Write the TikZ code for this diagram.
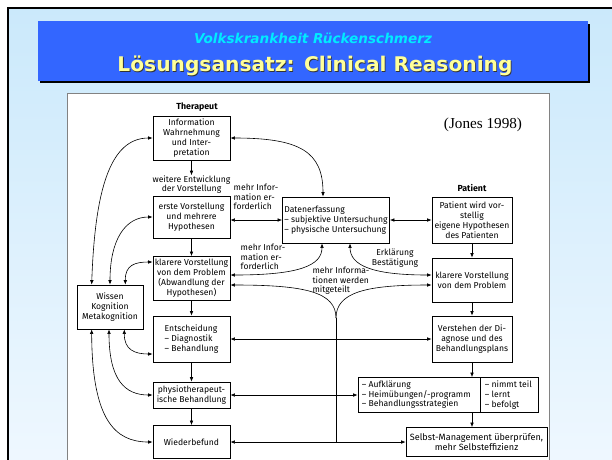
\documentclass[tikz,border=0pt]{standalone}
\usepackage{fontspec}
\setmainfont{Fira Sans}
\newfontfamily\titlefont{DejaVu Sans}
\newfontfamily\jonesfont{Liberation Serif}
\usetikzlibrary{arrows.meta}
\definecolor{bgtop}{RGB}{203,233,251}
\definecolor{bgbot}{RGB}{240,248,255}
\definecolor{titleblue}{RGB}{51,102,255}
\definecolor{subcyan}{RGB}{0,235,255}
\definecolor{titleyellow}{RGB}{255,255,153}
\definecolor{panelgrey}{RGB}{130,130,130}
\tikzset{
  box/.style={draw, line width=0.7pt, align=center, inner sep=1pt,
    font=\fontsize{8.6}{10}\selectfont},
  lbl/.style={align=left, inner sep=0pt, font=\fontsize{8.6}{9.6}\selectfont},
  head/.style={inner sep=0pt, font=\fontsize{8.8}{9.4}\selectfont\bfseries},
  conn/.style={line width=0.6pt, -{Latex[length=4.5pt,width=3.6pt]}},
  dconn/.style={line width=0.6pt, {Latex[length=4.5pt,width=3.6pt]}-{Latex[length=4.5pt,width=3.6pt]}},
  plain/.style={line width=0.6pt},
}
\begin{document}
\begin{tikzpicture}[x=1pt,y=-1pt]
\useasboundingbox (0,0) rectangle (612,459);
\clip (0,0) rectangle (612,459);
% slide background
\fill[white] (0,0) rectangle (612,459);
\shade[top color=bgtop, bottom color=bgbot] (8,8) rectangle (640,480);
\draw[line width=2.6pt] (8,8) rectangle (640,480);
% title banner
\fill[black] (40,24) rectangle (590,83);
\fill[titleblue] (38,21) rectangle (588,81);
\node[font=\titlefont\bfseries\itshape\fontsize{13.6}{15}\selectfont, text=subcyan] (sub) at (313,38) {Volkskrankheit Rückenschmerz};
\node[font=\titlefont\bfseries\fontsize{20.2}{22}\selectfont, text=black!80] (titsh) at (315.8,66.8) {Lösungsansatz: Clinical Reasoning};
\node[font=\titlefont\bfseries\fontsize{20.2}{22}\selectfont, text=titleyellow] (tit) at (315,66) {Lösungsansatz: Clinical Reasoning};
% panel
\draw[fill=white, draw=panelgrey, line width=0.8pt] (67,93) rectangle (549,480);

% headings
\node[head] (ther) at (197,107) {Therapeut};
\node[head] (pat) at (472,188) {Patient};
\node[font=\jonesfont\fontsize{15.2}{17}\selectfont, inner sep=0pt] (jones) at (483,125) {(Jones 1998)};

% left column
\node[box, minimum width=77pt, minimum height=44pt] (info) at (191.5,138) {Information\\Wahrnehmung\\und Inter-\\pretation};
\node[lbl, align=center] (weiter) at (191.5,184.5) {weitere Entwicklung\\der Vorstellung};
\node[box, minimum width=77pt, minimum height=42pt] (erste) at (191.5,217) {erste Vorstellung\\und mehrere\\Hypothesen};
\node[box, minimum width=77pt, minimum height=44pt] (klarL) at (191.5,278.5) {klarere Vorstellung\\von dem Problem\\(Abwandlung der\\Hypothesen)};
\node[box, minimum width=77pt, minimum height=46pt, align=left] (entsch) at (191.5,339) {Entscheidung\\– Diagnostik\\– Behandlung};
\node[box, minimum width=77pt, minimum height=26pt] (physio) at (191.5,395) {physiotherapeut-\\ische Behandlung};
\node[box, minimum width=77pt, minimum height=33pt] (wieder) at (191.5,442) {Wiederbefund};
\node[box, minimum width=66pt, minimum height=44pt] (wissen) at (110,307) {Wissen\\Kognition\\Metakognition};

% middle
\node[box, minimum width=107pt, minimum height=46pt, align=left] (daten) at (336,220) {Datenerfassung\\– subjektive Untersuchung\\– physische Untersuchung};
\node[lbl] (mi1) at (256,197) {mehr Infor-\\mation er-\\forderlich};
\node[lbl] (mi2) at (263,257) {mehr Infor-\\mation er-\\forderlich};
\node[lbl, align=center] (erkl) at (395,258) {Erklärung\\Bestätigung};
\node[lbl] (mitg) at (341,281) {mehr Informa-\\tionen werden\\mitgeteilt};

% right column
\node[box, minimum width=80pt, minimum height=46pt] (patient) at (472,220) {Patient wird vor-\\stellig\\eigene Hypothesen\\des Patienten};
\node[box, minimum width=80pt, minimum height=44pt] (klarR) at (472,280) {klarere Vorstellung\\von dem Problem};
\node[box, minimum width=80pt, minimum height=46pt] (verst) at (472,339) {Verstehen der Di-\\agnose und des\\Behandlungsplans};
\node[draw, line width=0.7pt, minimum width=180pt, minimum height=35pt, inner sep=0pt] (aufkl) at (448,395) {};
\draw[line width=0.7pt] ([xshift=123pt]aufkl.north west) -- ([xshift=123pt]aufkl.south west);
\node[lbl, anchor=west] (aufklL) at ([xshift=4pt]aufkl.west) {– Aufklärung\\– Heimübungen/-programm\\– Behandlungsstrategien};
\node[lbl, anchor=west] (aufklR) at ([xshift=127pt]aufkl.west) {– nimmt teil\\– lernt\\– befolgt};
\node[box, minimum width=141pt, minimum height=29pt, font=\fontsize{9.1}{10}\selectfont] (selbst) at (476.5,442) {Selbst-Management überprüfen,\\mehr Selbsteffizienz};

% vertical flow arrows
\draw[conn] (info.south) -- (weiter.north);
\draw[conn] (erste.south) -- (klarL.north);
\draw[conn] (klarL.south) -- (entsch.north);
\draw[conn] (entsch.south) -- (physio.north);
\draw[conn] (physio.south) -- (wieder.north);
\draw[conn] (patient.south) -- (klarR.north);
\draw[conn] (klarR.south) -- (verst.north);
\draw[conn] (verst.south) -- (verst.south |- aufkl.north);
\draw[conn] (verst.south |- aufkl.south) -- (verst.south |- selbst.north);

% horizontal double arrows
\draw[dconn] (erste.east |- daten.west) -- (daten.west);
\draw[dconn] (daten.east) -- (patient.west);
\draw[dconn] (entsch.east) -- (verst.west);
\draw[dconn] (physio.east) -- (aufkl.west);
\draw[dconn] (wieder.east) -- (selbst.west);

% info <-> daten
\draw[dconn] (info.east) .. controls (300,138) and ([xshift=-13pt,yshift=45pt]daten.north) .. ([xshift=-13pt]daten.north);

% daten -> klarL / klarR
\draw[dconn] ([xshift=-14pt]daten.south) .. controls ([xshift=-14pt,yshift=-22pt]daten.south) and (300,275) .. ([yshift=3.5pt]klarL.east);
\draw[dconn] ([xshift=14pt]daten.south) .. controls ([xshift=14pt,yshift=-22pt]daten.south) and (372,275) .. ([yshift=5pt]klarR.west);

% vertical line with branches
\coordinate (vj) at (336,318);
\draw[plain] (vj) -- (vj |- wieder.east);
\draw[conn] (vj) .. controls (336,292) and (305,285) .. ([yshift=-6.5pt]klarL.east);
\draw[conn] (vj) .. controls (336,292) and (367,285) .. ([yshift=-5pt]klarR.west);

% Wissen connections
\draw[dconn] ([xshift=15pt]wissen.north west) .. controls (95,190) and (110,138) .. (info.west);
\draw[dconn] (wissen.north) .. controls (110,240) and (125,217) .. (erste.west);
\draw[dconn] ([xshift=-18pt]wissen.north east) .. controls (125,265) and (135,262) .. ([yshift=16.5pt]klarL.west);
\draw[dconn] ([xshift=-19pt]wissen.south east) .. controls (124,350) and (135,354) .. ([yshift=-15pt]entsch.west);
\draw[dconn] ([xshift=-1pt]wissen.south) .. controls (109,380) and (125,395) .. (physio.west);
\draw[dconn] ([xshift=15pt]wissen.south west) .. controls (92,420) and (115,442) .. (wieder.west);
\end{tikzpicture}
\end{document}
